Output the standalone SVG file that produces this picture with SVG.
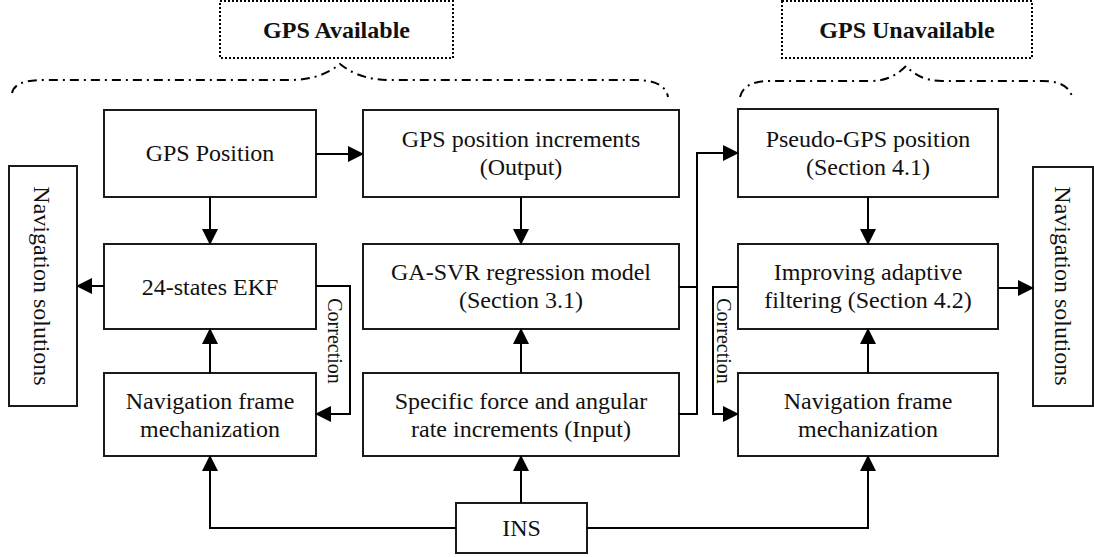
<svg xmlns="http://www.w3.org/2000/svg" width="1094" height="557" viewBox="0 0 1094 557">
<defs>
<marker id="ah" markerWidth="8" markerHeight="8" refX="7.5" refY="4" orient="auto" markerUnits="strokeWidth">
<path d="M0,0 L8,4 L0,8 Z" fill="#000"/>
</marker>
<style>
.box{fill:#fff;stroke:#1a1a1a;stroke-width:2}
.dot{fill:#fff;stroke:#000;stroke-width:2;stroke-dasharray:2 2}
.brace{fill:none;stroke:#000;stroke-width:2;stroke-dasharray:9 5 2 5}
.t{font-family:"Liberation Serif","Times New Roman",serif;font-size:24px;fill:#111;text-anchor:middle}
.b{font-weight:bold}
.c{font-size:20px}
.ln{fill:none;stroke:#000;stroke-width:2}
.ar{fill:none;stroke:#000;stroke-width:2;marker-end:url(#ah)}
</style>
</defs>
<rect width="1094" height="557" fill="#fff"/>

<g id="gps-available">
<rect class="dot" x="220" y="1" width="233" height="57"/>
<text class="t b" x="336.5" y="38">GPS Available</text>
</g>
<g id="gps-unavailable">
<rect class="dot" x="782" y="1" width="250" height="57"/>
<text class="t b" x="907" y="38">GPS Unavailable</text>
</g>
<g id="braces">
<path class="brace" d="M12,93 C14,84 24,80 45,80 L290,80 C315,80 330,72 340,64 C350,72 365,80 390,80 L635,80 C656,80 666,86 668,97"/>
<path class="brace" d="M740,97 C742,88 750,81 770,81 L870,81 C888,81 898,74 906,66 C914,74 924,81 942,81 L1042,81 C1062,81 1070,88 1072,97"/>
</g>

<g id="nav-sol-left">
<rect class="box" x="9" y="166" width="68" height="240"/>
<text class="t" transform="translate(34,286) rotate(90)" x="0" y="0">Navigation solutions</text>
</g>
<g id="nav-sol-right">
<rect class="box" x="1033" y="167" width="60" height="239"/>
<text class="t" transform="translate(1055,286) rotate(90)" x="0" y="0">Navigation solutions</text>
</g>

<g id="gps-position">
<rect class="box" x="104" y="110" width="212" height="87"/>
<text class="t" x="210" y="161">GPS Position</text>
</g>
<g id="gps-increments">
<rect class="box" x="363" y="110" width="316" height="87"/>
<text class="t" x="521" y="147">GPS position increments</text>
<text class="t" x="521" y="175">(Output)</text>
</g>
<g id="pseudo-gps">
<rect class="box" x="738" y="109" width="260" height="88"/>
<text class="t" x="868" y="147">Pseudo-GPS position</text>
<text class="t" x="868" y="175">(Section 4.1)</text>
</g>
<g id="ekf">
<rect class="box" x="104" y="244" width="212" height="85"/>
<text class="t" x="210" y="295">24-states EKF</text>
</g>
<g id="ga-svr">
<rect class="box" x="363" y="244" width="316" height="85"/>
<text class="t" x="521" y="280">GA-SVR regression model</text>
<text class="t" x="521" y="308">(Section 3.1)</text>
</g>
<g id="adaptive">
<rect class="box" x="738" y="244" width="260" height="85"/>
<text class="t" x="868" y="280">Improving adaptive</text>
<text class="t" x="868" y="308">filtering (Section 4.2)</text>
</g>
<g id="nav-frame-left">
<rect class="box" x="104" y="373" width="212" height="83"/>
<text class="t" x="210" y="409">Navigation frame</text>
<text class="t" x="210" y="437">mechanization</text>
</g>
<g id="specific-force">
<rect class="box" x="363" y="373" width="316" height="83"/>
<text class="t" x="521" y="409">Specific force and angular</text>
<text class="t" x="521" y="437">rate increments (Input)</text>
</g>
<g id="nav-frame-right">
<rect class="box" x="738" y="373" width="260" height="83"/>
<text class="t" x="868" y="409">Navigation frame</text>
<text class="t" x="868" y="437">mechanization</text>
</g>
<g id="ins">
<rect class="box" x="456" y="503" width="131" height="50"/>
<text class="t" x="521.5" y="536">INS</text>
</g>

<g id="connectors">
<path class="ar" d="M316,154 L363,154"/>
<path class="ar" d="M210,197 L210,244"/>
<path class="ar" d="M104,286 L77,286"/>
<path class="ar" d="M210,373 L210,329"/>
<path class="ar" d="M456,528 L210,528 L210,456"/>
<path class="ar" d="M521,503 L521,456"/>
<path class="ar" d="M587,528 L868,528 L868,456"/>
<path class="ar" d="M521,197 L521,244"/>
<path class="ar" d="M521,373 L521,329"/>
<path class="ar" d="M679,414 L697,414 L697,153 L738,153"/>
<path class="ln" d="M679,287 L697,287"/>
<path class="ar" d="M868,197 L868,244"/>
<path class="ar" d="M868,373 L868,329"/>
<path class="ar" d="M998,288 L1033,288"/>
<path class="ar" d="M316,286 L350,286 L350,414 L316,414"/>
<path class="ar" d="M738,287 L713,287 L713,414 L738,414"/>
<text class="t c" transform="translate(328,341) rotate(90)">Correction</text>
<text class="t c" transform="translate(717,341) rotate(90)">Correction</text>
</g>
</svg>
